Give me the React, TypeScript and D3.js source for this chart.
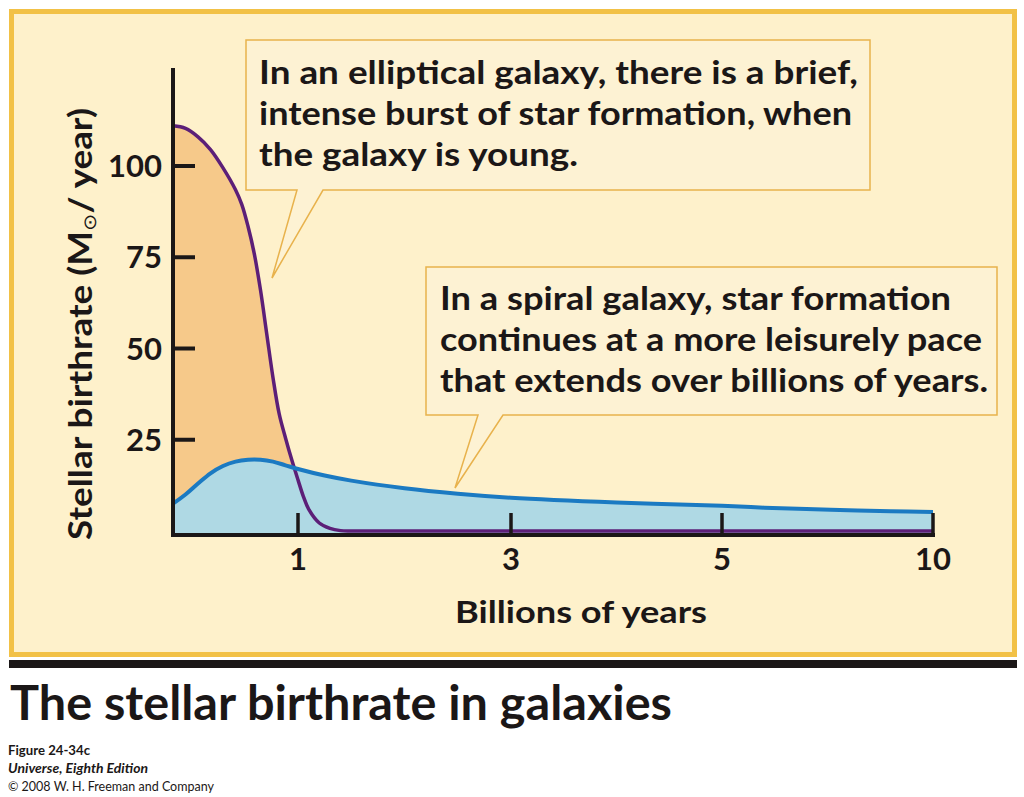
import React, { useEffect, useRef } from 'react';
import * as d3 from 'd3';

// billions of years -> birthrate (solar masses / year)
const ellipticalT = [0, 0.1, 0.2, 0.3, 0.4, 0.5, 0.55, 0.6, 0.65, 0.7, 0.75, 0.8, 0.85, 0.9, 0.95, 1.0, 1.05, 1.1, 1.2, 1.3, 1.4, 1.5, 2, 3, 5, 10];
const ellipticalRate = [111, 110.3, 108, 104.5, 99.5, 93.5, 89.5, 83.5, 76, 66, 54, 42, 32, 25.5, 19.5, 14, 9.5, 6, 2.2, 0.7, 0.1, 0, 0, 0, 0, 0];

const spiralT = [0, 0.1, 0.2, 0.3, 0.4, 0.5, 0.6, 0.7, 0.8, 0.9, 1.0, 1.25, 1.5, 2, 2.5, 3, 4, 5, 6, 7, 8, 9, 10];
const spiralRate = [7.5, 10, 13, 15.8, 17.8, 19, 19.5, 19.5, 19, 18, 17, 15.2, 13.8, 11.7, 10.2, 9.1, 7.8, 6.9, 6.4, 6, 5.7, 5.4, 5.2];

const xTicks = [1, 3, 5, 10];
const yTicks = [25, 50, 75, 100];

const ellipticalNote = [
  'In an elliptical galaxy, there is a brief,',
  'intense burst of star formation, when',
  'the galaxy is young.',
];
const ellipticalNoteWidths = [599, 593, 319];
const spiralNote = [
  'In a spiral galaxy, star formation',
  'continues at a more leisurely pace',
  'that extends over billions of years.',
];
const spiralNoteWidths = [511, 542, 548];

const title = 'The stellar birthrate in galaxies';
const credits = ['Figure 24-34c', 'Universe, Eighth Edition', '\u00a9 2008 W. H. Freeman and Company'];

const FONT = 'Lato, "Open Sans", sans-serif';

export default function App() {
  const ref = useRef<SVGSVGElement | null>(null);

  useEffect(() => {
    document.body.style.margin = '0';
    const svg = d3.select(ref.current);
    svg.selectAll('*').remove();

    const W = 1024;
    const H = 797;
    svg.attr('width', W).attr('height', H);

    // the time axis is stretched unevenly in the original figure
    const x = d3.scaleLinear().domain([0, 1, 3, 5, 10]).range([173, 298, 511, 722, 933]);
    const y = d3.scaleLinear().domain([0, 100]).range([531, 166]);
    const axisY = 535;

    // panel
    svg.append('rect').attr('x', 11.5).attr('y', 11.5).attr('width', 1003).attr('height', 643)
      .attr('fill', '#fef1cb').attr('stroke', '#f2c146').attr('stroke-width', 5);
    svg.append('rect').attr('x', 9).attr('y', 660).attr('width', 1008).attr('height', 8).attr('fill', '#1b1717');

    const ell = ellipticalT.map((t, i) => ({ t, v: ellipticalRate[i] }));
    const spi = spiralT.map((t, i) => ({ t, v: spiralRate[i] }));

    const curve = d3.curveCatmullRom.alpha(0.5);
    const area = d3.area<{ t: number; v: number }>()
      .curve(curve)
      .x((d) => x(d.t))
      .y0(axisY)
      .y1((d) => y(d.v));
    const line = d3.line<{ t: number; v: number }>()
      .curve(curve)
      .x((d) => x(d.t))
      .y((d) => y(d.v));

    svg.append('path').datum(ell).attr('d', area).attr('fill', '#f6c98a');
    svg.append('path').datum(spi).attr('d', area).attr('fill', '#afd9e4');
    svg.append('path').datum(ell).attr('d', line).attr('fill', 'none')
      .attr('stroke', '#5c1f78').attr('stroke-width', 3.5);
    svg.append('path').datum(spi).attr('d', line).attr('fill', 'none')
      .attr('stroke', '#1b7ac2').attr('stroke-width', 4);

    // axes
    const ax = svg.append('g').attr('stroke', '#1b1717').attr('stroke-width', 4);
    ax.append('line').attr('x1', x(0)).attr('x2', x(0)).attr('y1', 68).attr('y2', axisY + 2);
    ax.append('line').attr('x1', x(0) - 2).attr('x2', x(10) + 2).attr('y1', axisY).attr('y2', axisY);
    ax.selectAll('.yt').data(yTicks).enter().append('line')
      .attr('x1', x(0)).attr('x2', x(0) + 22).attr('y1', (d) => y(d)).attr('y2', (d) => y(d));
    ax.selectAll('.xt').data(xTicks).enter().append('line')
      .attr('x1', (d) => x(d)).attr('x2', (d) => x(d)).attr('y1', axisY).attr('y2', axisY - 22)
      .attr('stroke-width', 3.5);

    // callouts (boxes first so the text sits on top)
    const callout = (l: number, t: number, r: number, b: number, a: number, c: number, tx: number, ty: number) =>
      `M${l},${t}H${r}V${b}H${c}L${tx},${ty}L${a},${b}H${l}Z`;
    svg.append('path').attr('d', callout(246, 40, 870, 190, 297, 323, 272, 278))
      .attr('fill', '#fdf2d3').attr('stroke', '#e8b24c').attr('stroke-width', 1.5);
    svg.append('path').attr('d', callout(426, 267, 997, 415, 478, 503, 455, 488))
      .attr('fill', '#fdf2d3').attr('stroke', '#e8b24c').attr('stroke-width', 1.5);

    const txt = svg.append('g').attr('font-family', FONT).attr('font-weight', 700).attr('fill', '#1b1717');
    txt.selectAll('.yl').data(yTicks).enter().append('text')
      .attr('x', 162).attr('y', (d) => y(d) + 11).attr('text-anchor', 'end')
      .attr('font-size', 31).text((d) => d);
    txt.selectAll('.xl').data(xTicks).enter().append('text')
      .attr('x', (d) => x(d)).attr('y', 570).attr('text-anchor', 'middle')
      .attr('font-size', 31).text((d) => d);

    txt.append('text').attr('x', 581).attr('y', 623).attr('text-anchor', 'middle')
      .attr('font-size', 31).attr('textLength', 252).attr('lengthAdjust', 'spacingAndGlyphs')
      .text('Billions of years');

    const yl = txt.append('text').attr('transform', 'translate(92,324) rotate(-90)')
      .attr('text-anchor', 'middle').attr('font-size', 32)
      .attr('textLength', 432).attr('lengthAdjust', 'spacingAndGlyphs');
    yl.append('tspan').text('Stellar birthrate (M');
    yl.append('tspan').attr('font-size', 18).attr('dy', 4).attr('font-weight', 400).text('\u2299');
    yl.append('tspan').attr('dy', -4).text('/ year)');

    ellipticalNote.forEach((s, i) => {
      txt.append('text').attr('x', 259).attr('y', 84 + i * 41).attr('font-size', 33)
        .attr('textLength', ellipticalNoteWidths[i]).attr('lengthAdjust', 'spacingAndGlyphs').text(s);
    });
    spiralNote.forEach((s, i) => {
      txt.append('text').attr('x', 440).attr('y', 310 + i * 41).attr('font-size', 33)
        .attr('textLength', spiralNoteWidths[i]).attr('lengthAdjust', 'spacingAndGlyphs').text(s);
    });

    // title and credits
    txt.append('text').attr('x', 10).attr('y', 720).attr('font-size', 47)
      .attr('textLength', 662).attr('lengthAdjust', 'spacingAndGlyphs').text(title);
    const cw = [82, 140, 206];
    credits.forEach((s, i) => {
      txt.append('text').attr('x', 8).attr('y', 755 + i * 18).attr('font-size', 14)
        .attr('font-weight', i === 2 ? 400 : 700)
        .attr('font-style', i === 1 ? 'italic' : 'normal')
        .attr('textLength', cw[i]).attr('lengthAdjust', 'spacingAndGlyphs').text(s);
    });
  }, []);

  return (
    <div style={{ position: 'absolute', left: 0, top: 0, background: '#fff' }}>
      <svg ref={ref} />
    </div>
  );
}
